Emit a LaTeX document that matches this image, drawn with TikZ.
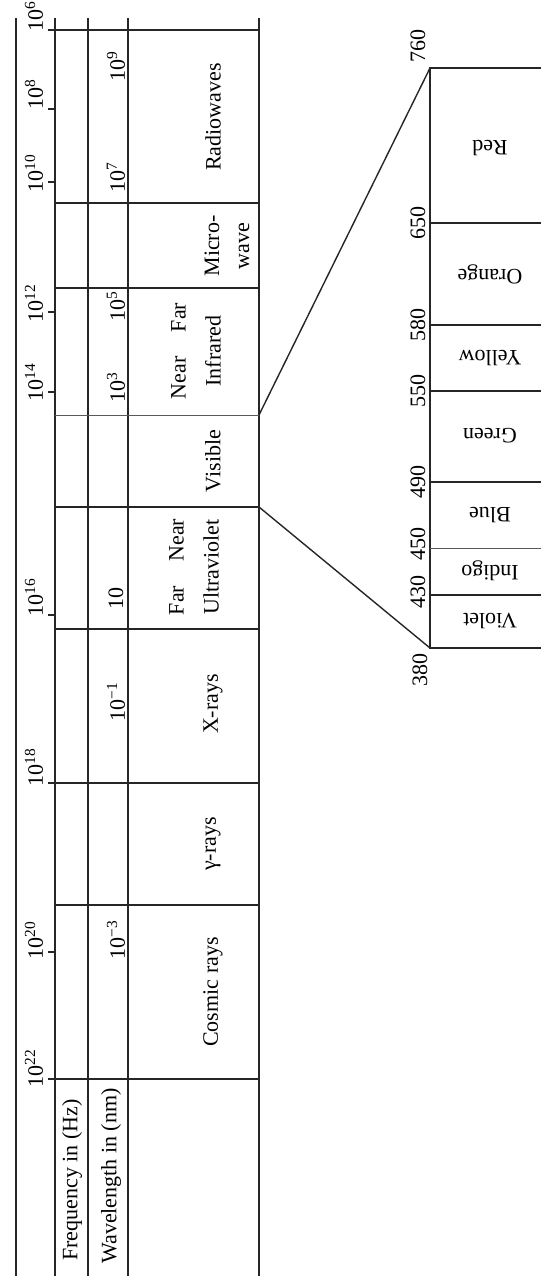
\documentclass[tikz,border=0pt]{standalone}
\usepackage{fontspec}
\setmainfont{Liberation Serif}
\begin{document}
\begin{tikzpicture}[x=0.5pt,y=-0.5pt,
  rule/.style={line width=0.95pt, black!85},
  thinrule/.style={line width=0.5pt, black!65},
  conn/.style={line width=0.7pt, black!85},
  lbl/.style={font=\fontsize{11}{13}\selectfont, inner sep=0pt},
  vlbl/.style={lbl, rotate=90},
  flbl/.style={lbl, rotate=180}]
\useasboundingbox (0,0) rectangle (541,1281);
\fill[white] (0,0) rectangle (541,1281);

% main table: vertical lines
\foreach \x in {16,55,88,128,259} \draw[rule] (\x,18) -- (\x,1276);
% horizontal lines with ticks
\foreach \y in {30,783,1079} \draw[rule] (48,\y) -- (259,\y);
\foreach \y in {203,288,507,629,905} \draw[rule] (55,\y) -- (259,\y);
\draw[thinrule] (55,415) -- (259,415);
% ticks
\foreach \y in {109,182,312,392,615,952} \draw[rule] (48,\y) -- (55,\y);

% frequency labels
\foreach \e/\y in {6/32, 8/110, 10/193, 12/323, 14/402, 16/617, 18/787, 20/960, 22/1088}
  \node[vlbl, anchor=west] (f\e) at (34,\y) {10\textsuperscript{\e}};

% wavelength labels
\node[vlbl, anchor=west] (w9) at (116,82) {10\textsuperscript{9}};
\node[vlbl, anchor=west] (w7) at (116,193) {10\textsuperscript{7}};
\node[vlbl, anchor=west] (w5) at (116,322) {10\textsuperscript{5}};
\node[vlbl, anchor=west] (w3) at (116,403) {10\textsuperscript{3}};
\node[vlbl, anchor=west] (w1) at (116,610) {10};
\node[vlbl, anchor=west] (wm1) at (116,722) {10\textsuperscript{−1}};
\node[vlbl, anchor=west] (wm3) at (116,960) {10\textsuperscript{−3}};

% region names
\node[vlbl] (radio) at (213,117) {Radiowaves};
\node[vlbl, align=center, font=\fontsize{11}{15}\selectfont] (micro) at (227,246) {Micro-\\wave};
\node[vlbl, align=center, font=\fontsize{11}{17.5}\selectfont] (ir) at (196,351) {Near\hspace{1.1em}Far\\Infrared};
\node[vlbl] (vis) at (213,461) {Visible};
\node[vlbl, align=center, font=\fontsize{11}{17.5}\selectfont] (uv) at (194,567) {Far\hspace{1.1em}Near\\Ultraviolet};
\node[vlbl] (xr) at (213,704) {X-rays};
\node[vlbl] (gr) at (213,844) {γ-rays};
\node[vlbl] (cr) at (213,992) {Cosmic rays};

% headers
\node[vlbl] (hf) at (72,1180) {Frequency in (Hz)};
\node[vlbl] (hw) at (111,1176) {Wavelength in (nm)};

% visible detail box
\draw[rule] (541,68) -- (430,68) -- (430,648) -- (541,648);
\foreach \y in {223,325,391,482,595} \draw[rule] (430,\y) -- (541,\y);
\draw[thinrule] (430,548) -- (541,548);

\node[flbl] (red) at (490,148) {Red};
\node[flbl] (orange) at (490,274) {Orange};
\node[flbl] (yellow) at (490,358) {Yellow};
\node[flbl] (green) at (490,436) {Green};
\node[flbl] (blue) at (490,515) {Blue};
\node[flbl] (indigo) at (490,571) {Indigo};
\node[flbl] (violet) at (490,621) {Violet};

\node[vlbl, anchor=west] (n760) at (418,63) {760};
\node[vlbl] (n650) at (418,223) {650};
\node[vlbl] (n580) at (418,325) {580};
\node[vlbl] (n550) at (418,391) {550};
\node[vlbl] (n490) at (418,482) {490};
\node[vlbl] (n450) at (418,544) {450};
\node[vlbl] (n430) at (418,592) {430};
\node[vlbl, anchor=east] (n380) at (420,653) {380};

% connectors
\coordinate (visTop) at (259,415);
\coordinate (visBot) at (259,507);
\coordinate (boxTop) at (430,68);
\coordinate (boxBot) at (430,648);
\draw[conn] (visTop) -- (boxTop);
\draw[conn] (visBot) -- (boxBot);
\end{tikzpicture}
\end{document}
